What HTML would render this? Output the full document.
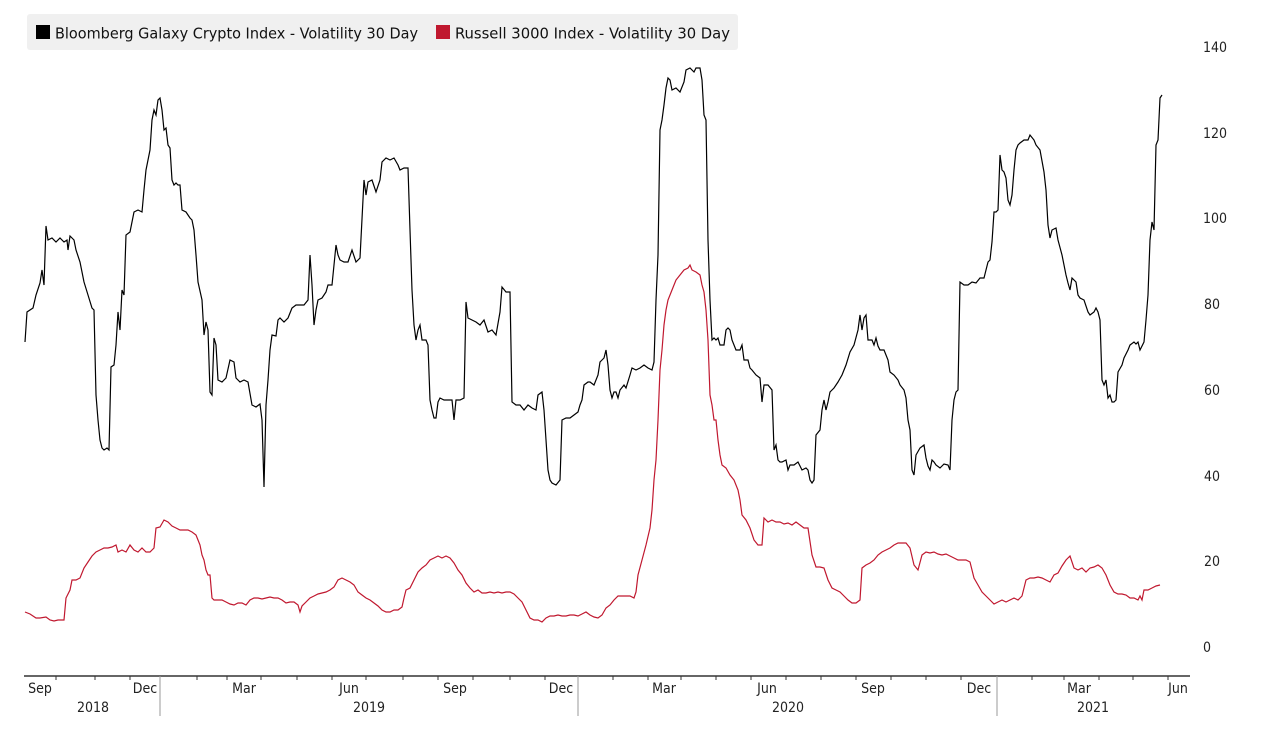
<!DOCTYPE html>
<html><head><meta charset="utf-8"><style>
body{margin:0;background:#fff;}
svg{display:block;font-family:"DejaVu Sans Condensed","DejaVu Sans","Liberation Sans",sans-serif;}
</style></head><body>
<svg width="1264" height="738" viewBox="0 0 1264 738">
<rect x="27" y="14" width="711" height="36" rx="3" fill="#f0f0f0"/>
<rect x="36" y="25" width="14" height="14" fill="#000"/>
<text x="55" y="38.5" font-size="15" fill="#111" textLength="363" lengthAdjust="spacingAndGlyphs">Bloomberg Galaxy Crypto Index - Volatility 30 Day</text>
<rect x="436" y="25" width="14" height="14" fill="#c0182f"/>
<text x="455" y="38.5" font-size="15" fill="#111" textLength="275" lengthAdjust="spacingAndGlyphs">Russell 3000 Index - Volatility 30 Day</text>
<g font-size="14" fill="#222" text-anchor="end">
<text x="1227" y="52">140</text><text x="1227" y="138">120</text><text x="1227" y="223">100</text>
<text x="1220" y="309">80</text><text x="1220" y="395">60</text><text x="1220" y="481">40</text>
<text x="1220" y="566">20</text><text x="1211" y="652">0</text>
</g>
<line x1="24" y1="676" x2="1190" y2="676" stroke="#333" stroke-width="1.5"/>
<g stroke="#333" stroke-width="1">
<path d="M56 676v4M95 676v4M130 676v4M197 676v4M227 676v4M261 676v4M297 676v4M332 676v4M366 676v4M403 676v4M438 676v4M473 676v4M510 676v4M545 676v4M613 676v4M648 676v4M681 676v4M716 676v4M751 676v4M786 676v4M821 676v4M856 676v4M891 676v4M926 676v4M961 676v4M1032 676v4M1064 676v4M1099 676v4M1133 676v4M1168 676v4"/>
</g>
<g stroke="#999" stroke-width="1"><path d="M160 676v40M578 676v40M997 676v40"/></g>
<g font-size="14" fill="#222" text-anchor="middle">
<text x="40" y="693">Sep</text><text x="145" y="693">Dec</text><text x="244" y="693">Mar</text>
<text x="349" y="693">Jun</text><text x="455" y="693">Sep</text><text x="561" y="693">Dec</text>
<text x="664" y="693">Mar</text><text x="767" y="693">Jun</text><text x="873" y="693">Sep</text>
<text x="979" y="693">Dec</text><text x="1079" y="693">Mar</text><text x="1178" y="693">Jun</text>
<text x="93" y="712">2018</text><text x="369" y="712">2019</text><text x="788" y="712">2020</text><text x="1093" y="712">2021</text>
</g>
<polyline fill="none" stroke="#000" stroke-width="1.2" points="25,342 27,312 33,308 36,295 40,283 42,270 44,285 46,226 48,240 52,238 56,242 60,238 64,242 67,240 68,250 70,236 74,240 76,250 80,262 84,282 88,295 92,308 94,310 96,395 98,420 100,440 102,448 104,450 107,448 109,450 111,367 114,365 116,345 118,312 120,330 122,290 124,295 126,235 130,232 134,212 138,210 142,212 144,190 146,170 148,160 150,150 152,120 154,110 156,115 158,100 160,98 162,110 164,130 166,128 168,145 170,148 172,180 174,185 176,183 178,185 180,185 182,210 186,212 190,218 192,220 194,230 196,255 198,282 202,300 204,335 206,322 208,330 210,392 212,395 214,338 216,345 218,380 222,382 226,378 230,360 234,362 236,378 240,382 244,380 248,382 252,405 256,407 260,404 262,420 264,487 266,405 268,380 270,350 272,335 276,336 278,320 280,318 284,322 288,318 292,308 296,305 300,305 304,305 308,300 310,255 312,285 314,325 316,310 318,300 322,298 326,292 328,285 332,285 336,245 338,255 340,260 344,262 348,262 352,250 356,262 360,258 364,180 366,195 368,182 372,180 376,192 380,180 382,162 386,158 390,160 394,158 398,165 400,170 404,168 408,168 410,230 412,290 414,325 416,340 418,330 420,325 422,340 426,340 428,345 430,400 432,410 434,418 436,418 438,402 440,398 444,400 448,400 452,400 454,420 456,400 460,400 464,398 466,302 468,318 472,320 476,322 480,325 484,320 488,332 492,330 496,335 500,312 502,287 506,292 510,292 512,402 516,405 520,405 524,410 528,405 532,408 536,410 538,395 542,392 544,410 546,440 548,470 550,480 552,483 556,485 560,480 562,420 566,418 570,418 574,415 578,412 580,405 582,400 584,385 588,382 590,382 594,385 598,375 600,362 602,360 604,358 606,350 608,365 610,390 612,398 614,392 616,392 618,398 620,390 624,385 626,388 630,375 632,368 636,370 640,368 644,365 648,368 652,370 654,362 656,300 658,255 660,130 662,120 664,105 666,88 668,78 670,80 672,90 676,88 680,92 684,82 686,70 690,68 694,72 696,68 698,68 700,68 702,80 704,115 706,120 708,240 710,300 712,340 714,338 716,340 718,338 720,345 724,345 726,330 728,328 730,330 732,340 736,350 740,350 742,345 744,360 748,360 750,368 752,370 756,375 760,378 762,402 764,385 768,385 772,390 774,450 776,445 778,460 780,462 782,462 786,460 788,470 790,465 794,465 798,462 802,470 806,468 808,470 810,480 812,483 814,480 816,435 820,430 822,410 824,400 826,410 828,402 830,392 834,388 838,382 842,375 846,365 850,352 854,345 858,330 860,315 862,330 864,318 866,315 868,340 872,340 874,345 876,338 878,346 880,350 884,350 888,360 890,372 894,375 898,380 900,385 904,390 906,398 908,420 910,430 912,470 914,475 916,455 920,448 924,445 926,458 928,466 930,470 932,460 934,462 936,465 940,468 944,464 948,465 950,470 952,420 954,400 956,392 958,390 960,282 964,285 968,285 972,282 976,283 980,278 984,278 986,270 988,262 990,260 992,242 994,212 996,212 998,210 1000,155 1002,170 1004,172 1006,178 1008,200 1010,205 1012,195 1014,170 1016,150 1018,145 1020,143 1024,140 1028,140 1030,135 1034,140 1036,145 1040,150 1044,172 1046,190 1048,225 1050,238 1052,230 1056,228 1058,240 1062,255 1066,275 1068,283 1070,290 1072,278 1076,282 1078,295 1080,298 1084,300 1088,312 1090,315 1094,312 1096,308 1098,312 1100,320 1102,380 1104,385 1106,380 1108,398 1110,395 1112,402 1114,402 1116,400 1118,372 1122,365 1124,358 1128,350 1130,345 1134,342 1136,344 1138,342 1140,350 1144,342 1146,320 1148,295 1150,240 1152,222 1154,230 1156,145 1158,140 1160,98 1162,95"/>
<polyline fill="none" stroke="#c0182f" stroke-width="1.2" points="25,612 30,614 36,618 40,618 46,617 50,620 54,621 58,620 64,620 66,598 70,590 72,580 76,580 80,578 84,568 88,562 92,556 96,552 100,550 104,548 108,548 112,547 116,545 118,552 122,550 126,552 130,545 134,550 138,552 142,548 146,552 150,552 154,548 156,528 160,527 164,520 168,522 172,526 176,528 180,530 184,530 188,530 192,532 196,535 198,540 200,545 202,555 204,560 206,570 208,575 210,575 212,598 214,600 218,600 222,600 226,602 230,604 234,605 238,603 242,603 246,605 250,600 254,598 258,598 262,599 266,598 270,597 274,598 278,598 282,600 286,603 290,602 294,602 298,605 300,612 302,606 306,602 310,598 314,596 318,594 322,593 326,592 330,590 334,587 338,580 342,578 346,580 350,582 354,585 358,592 362,595 366,598 370,600 374,603 378,606 382,610 386,612 390,612 394,610 398,610 402,607 404,598 406,590 410,588 414,580 418,572 422,568 426,565 430,560 434,558 438,556 442,558 446,556 450,558 454,563 458,570 462,575 466,583 470,588 474,592 478,590 482,593 486,593 490,592 494,593 498,592 502,593 506,592 510,592 514,594 518,598 522,602 526,610 530,618 534,620 538,620 542,622 546,618 550,616 554,616 558,615 562,616 566,616 570,615 574,615 578,616 582,614 586,612 590,615 594,617 598,618 602,615 606,608 610,605 614,600 618,596 622,596 626,596 630,596 634,598 636,592 638,575 642,560 646,545 650,528 652,510 654,480 656,460 658,420 660,370 662,350 664,325 666,310 668,300 672,290 676,280 680,275 684,270 688,268 690,265 692,270 696,272 700,275 702,285 704,292 706,310 708,340 710,395 712,405 714,420 716,420 718,440 720,455 722,465 726,468 730,475 734,480 738,490 740,500 742,515 746,520 750,528 754,540 758,545 762,545 764,518 768,522 772,520 776,522 780,522 784,524 788,523 792,525 796,522 800,525 804,528 808,528 812,555 816,567 820,567 824,568 828,580 832,588 836,590 840,592 844,596 848,600 852,603 856,603 860,600 862,568 866,565 870,563 874,560 878,555 882,552 886,550 890,548 894,545 898,543 902,543 906,543 910,548 914,565 918,570 922,555 926,552 930,553 934,552 938,554 942,555 946,554 950,556 954,558 958,560 962,560 966,560 970,562 974,578 978,585 982,592 986,596 990,600 994,604 998,602 1002,600 1006,602 1010,600 1014,598 1018,600 1022,596 1026,580 1030,578 1034,578 1038,577 1042,578 1046,580 1050,582 1054,575 1058,573 1062,566 1066,560 1070,556 1074,568 1078,570 1082,568 1086,572 1090,568 1094,567 1098,565 1102,568 1106,575 1110,585 1114,592 1118,594 1122,594 1126,595 1130,598 1134,598 1138,600 1140,596 1142,600 1144,590 1148,590 1152,588 1156,586 1160,585"/>
</svg>
</body></html>
